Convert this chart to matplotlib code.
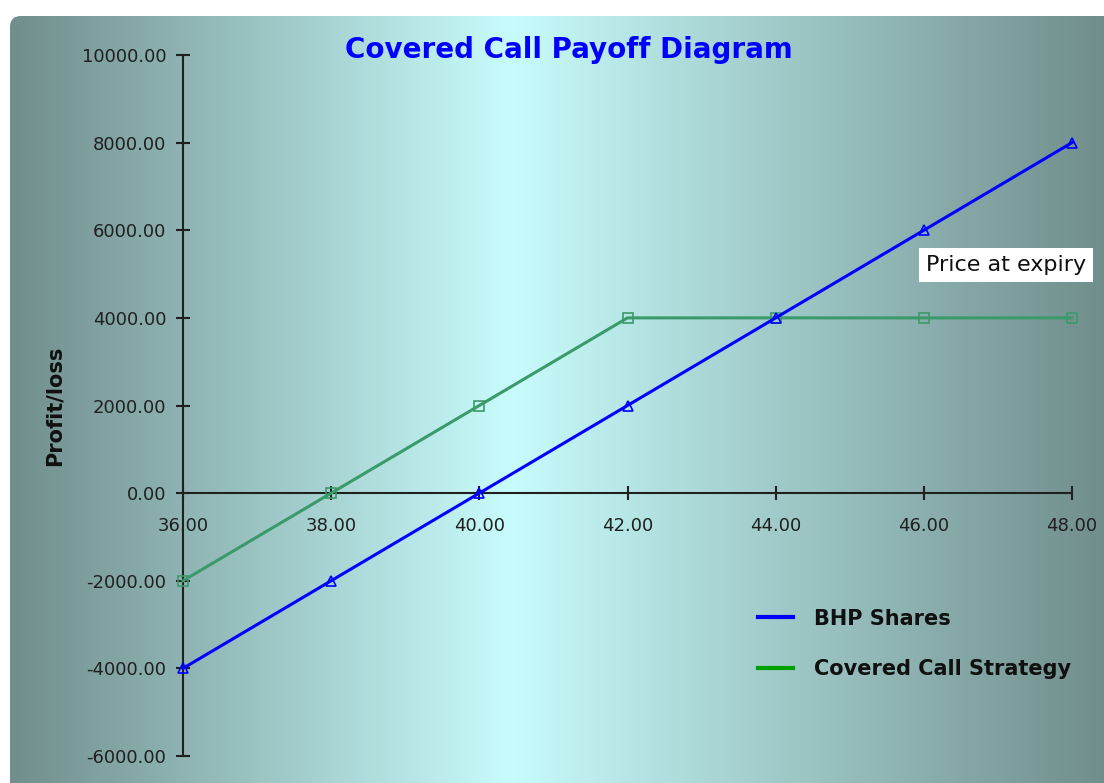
import numpy as np
import matplotlib
matplotlib.use('Agg')
import matplotlib.pyplot as plt
from matplotlib.lines import Line2D
from matplotlib.patches import FancyBboxPatch

prices = [36, 38, 40, 42, 44, 46, 48]
bhp_shares = [-4000, -2000, 0, 2000, 4000, 6000, 8000]
covered_call = [-2000, 0, 2000, 4000, 4000, 4000, 4000]
y_ticks = [-6000, -4000, -2000, 0, 2000, 4000, 6000, 8000, 10000]

W, H = 1104, 783
fig = plt.figure(figsize=(W / 100, H / 100), dpi=100)
fig.patch.set_facecolor('white')

# gradient background panel, rounded top-left corner
bg = fig.add_axes([10 / W, 0, 1 - 10 / W, 1 - 16 / H])
bg.set_axis_off()
xs = np.linspace(10, W, 600)
edge = np.array([112, 142, 140]) / 255
mid = np.array([200, 252, 252]) / 255
t = np.where(xs < 510, (xs - 10) / 500, (W - xs) / (W - 510))
t = np.clip(t, 0, 1)
cols = edge[None, :] + (mid - edge)[None, :] * t[:, None]
img = bg.imshow(cols[None, :, :], aspect='auto', extent=[0, 1, 0, 1])
bg.set_xlim(0, 1)
bg.set_ylim(0, 1)
clip = FancyBboxPatch((0, -0.1), 1.2, 1.1, boxstyle='round,pad=0,rounding_size=0.01',
                      transform=bg.transAxes, facecolor='none', edgecolor='none',
                      mutation_aspect=1.4)
bg.add_patch(clip)
img.set_clip_path(clip)

ax = fig.add_axes([183 / W, 1 - 756 / H, (1072 - 183) / W, (756 - 55) / H])
ax.set_facecolor('none')
ax.plot(prices, bhp_shares, color='#0000ff', lw=2.2, marker='^', ms=7.5,
        mfc='none', mec='#0000ff', mew=1.2, clip_on=False, zorder=4)
ax.plot(prices, covered_call, color='#3a9a6a', lw=2.2, marker='s', ms=6.5,
        mfc='none', mec='#3a9a6a', mew=1.2, clip_on=False, zorder=3)

ax.set_xlim(36, 48)
ax.set_ylim(-6000, 10000)
ax.set_xticks(prices)
ax.set_xticklabels([f'{p:.2f}' for p in prices])
ax.set_yticks(y_ticks)
ax.set_yticklabels([f'{v:.2f}' for v in y_ticks])

for s in ['top', 'right']:
    ax.spines[s].set_visible(False)
ax.spines['bottom'].set_position(('data', 0))
ax.spines['left'].set_color('#202020')
ax.spines['bottom'].set_color('#202020')
ax.spines['left'].set_linewidth(1.5)
ax.spines['bottom'].set_linewidth(1.5)
ax.tick_params(axis='both', direction='inout', length=10, width=1.5,
               color='#202020', labelsize=13, labelcolor='#202020')
ax.tick_params(axis='y', pad=7)
ax.tick_params(axis='x', pad=12)

fig.text(55 / W, 1 - 406 / H, 'Profit/loss', rotation=90, ha='center', va='center',
         fontsize=15, fontweight='bold', color='#101010')
fig.text(569 / W, 1 - 50 / H, 'Covered Call Payoff Diagram', ha='center', va='center',
         fontsize=20, fontweight='bold', color='#0000ff')
fig.text(1006 / W, 1 - 265 / H, 'Price at expiry', ha='center', va='center',
         fontsize=16, color='#101010',
         bbox=dict(boxstyle='square,pad=0.3', facecolor='white', edgecolor='none'))

handles = [Line2D([], [], color='#0000ff', lw=3),
           Line2D([], [], color='#00a000', lw=3)]
leg = ax.legend(handles, ['BHP Shares', 'Covered Call Strategy'], frameon=False,
                loc='upper left', bbox_to_anchor=(739 / W, 1 - 590 / H),
                bbox_transform=fig.transFigure, handlelength=1.7, handletextpad=1.0,
                labelspacing=1.45, prop={'size': 15, 'weight': 'bold'})
for txt in leg.get_texts():
    txt.set_color('#101010')

fig.savefig('out.png', dpi=100)
